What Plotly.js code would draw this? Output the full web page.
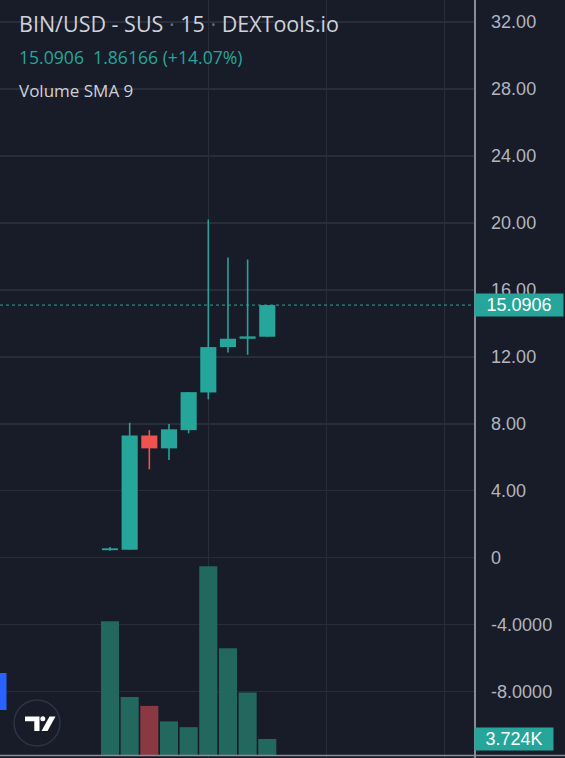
<!DOCTYPE html>
<html>
<head>
<meta charset="utf-8">
<script src="https://cdn.plot.ly/plotly-3.0.1.min.js"></script>
<style>html,body{margin:0;padding:0;background:#181b28;}#chart{width:565px;height:758px;}</style>
</head>
<body>
<div id="chart"></div>
<script>
// ---- data ----
var candleIdx = [0, 1, 2, 3, 4, 5, 6, 7, 8];
var opens  = [0.45, 0.47, 7.30, 6.53, 7.62, 9.87, 12.58, 13.08, 13.20];
var highs  = [0.64, 8.06, 7.62, 7.98, 9.89, 20.20, 17.93, 17.81, 15.0906];
var lows   = [0.42, 0.47, 5.28, 5.83, 7.43, 9.46, 12.26, 12.12, 13.20];
var closes = [0.56, 7.30, 6.53, 7.67, 9.89, 12.58, 13.08, 13.22, 15.0906];
var volumes = [30300, 13200, 11200, 7700, 6400, 42700, 24200, 14200, 3724];
var priceTickVals = [-8, -4, 0, 4, 8, 12, 16, 20, 24, 28, 32];
var priceTickText = ['-8.0000', '-4.0000', '0', '4.00', '8.00', '12.00', '16.00', '20.00', '24.00', '28.00', '32.00'];
var lastPrice = 15.0906;
var lastVolumeLabel = '3.724K';

// ---- styles ----
var W = 565, H = 758;
var BG = '#181b28', GRID = '#292d3a';
var UP = '#26a69a', DOWN = '#ef5350';
var VUP = '#22685e', VDOWN = '#8a3942';
function px(x) { return x / W; }
function py(y) { return 1 - y / H; }

var isUp = closes.map(function (c, i) { return c >= opens[i]; });
var candleColors = isUp.map(function (u) { return u ? UP : DOWN; });
var volColors = isUp.map(function (u) { return u ? VUP : VDOWN; });

var traces = [
  { // volume
    type: 'bar', x: candleIdx, y: volumes, yaxis: 'y2', width: 0.92,
    marker: { color: volColors, line: { width: 0 } }, hoverinfo: 'skip'
  },
  { // wicks
    type: 'bar', x: candleIdx,
    base: lows, y: highs.map(function (h, i) { return h - lows[i]; }),
    width: 0.08, marker: { color: candleColors, line: { width: 0 } }, hoverinfo: 'skip'
  },
  { // bodies
    type: 'bar', x: candleIdx,
    base: opens.map(function (o, i) { return Math.min(o, closes[i]); }),
    y: opens.map(function (o, i) { return Math.abs(closes[i] - o); }),
    width: 0.82, marker: { color: candleColors, line: { width: 0 } }, hoverinfo: 'skip'
  }
];

function logoShapes() {
  var s = [];
  s.push({ type: 'circle', xref: 'paper', yref: 'paper', x0: px(14), x1: px(60), y0: py(746), y1: py(700),
           line: { color: '#2f3342', width: 1.5 }, fillcolor: BG, layer: 'above' });
  var T = [[25,716.5],[39.5,716.5],[39.5,731],[34.3,731],[34.3,721.3],[25,721.3]];
  var d = 'M' + T.map(function (p) { return px(p[0]) + ',' + py(p[1]); }).join(' L') + ' Z';
  s.push({ type: 'path', xref: 'paper', yref: 'paper', path: d, fillcolor: '#ffffff', line: { width: 0 }, layer: 'above' });
  s.push({ type: 'circle', xref: 'paper', yref: 'paper', x0: px(40.3), x1: px(45.3), y0: py(721.3), y1: py(716.3),
           fillcolor: '#ffffff', line: { width: 0 }, layer: 'above' });
  var S = [[49.5,716.5],[55.5,716.5],[47.5,731],[41.5,731]];
  var d2 = 'M' + S.map(function (p) { return px(p[0]) + ',' + py(p[1]); }).join(' L') + ' Z';
  s.push({ type: 'path', xref: 'paper', yref: 'paper', path: d2, fillcolor: '#ffffff', line: { width: 0 }, layer: 'above' });
  s.push({ type: 'rect', xref: 'paper', yref: 'paper', x0: px(-4), x1: px(6.5), y0: py(710), y1: py(673),
           fillcolor: '#2962ff', line: { width: 0 }, layer: 'above' });
  return s;
}

var shapes = [
  { type: 'line', xref: 'paper', yref: 'y', x0: 0, x1: px(474), y0: lastPrice, y1: lastPrice,
    line: { color: UP, width: 1, dash: 'dot' } },
  { type: 'line', xref: 'paper', yref: 'paper', x0: 0, x1: 1, y0: py(755.5), y1: py(755.5),
    line: { color: '#8a8d96', width: 1.5 } }
].concat(logoShapes());

var dot = '<span style="color:#6a6d78"> · </span>';
var annotations = [
  { xref: 'paper', yref: 'paper', x: px(17), y: py(23), xanchor: 'left', yanchor: 'middle', showarrow: false,
    text: 'BIN/USD - SUS' + dot + '15' + dot + 'DEXTools.io',
    font: { family: 'Open Sans, sans-serif', size: 21.5, color: '#cfd2da' } },
  { xref: 'paper', yref: 'paper', x: px(17), y: py(57), xanchor: 'left', yanchor: 'middle', showarrow: false,
    text: '15.0906  1.86166 (+14.07%)',
    font: { family: 'Open Sans, sans-serif', size: 17.6, color: UP } },
  { xref: 'paper', yref: 'paper', x: px(17), y: py(90), xanchor: 'left', yanchor: 'middle', showarrow: false,
    text: 'Volume SMA 9',
    font: { family: 'Open Sans, sans-serif', size: 17, color: '#cfd2da' } },
  { xref: 'paper', yref: 'y', x: px(474), y: lastPrice, xanchor: 'left', yanchor: 'middle', showarrow: false,
    text: String(lastPrice), bgcolor: UP, borderpad: 1, width: 86, align: 'center',
    font: { family: 'Liberation Sans, Arial, sans-serif', size: 18, color: '#ffffff' } },
  { xref: 'paper', yref: 'y2', x: px(474), y: volumes[volumes.length - 1], xanchor: 'left', yanchor: 'middle', showarrow: false,
    text: lastVolumeLabel, bgcolor: UP, borderpad: 1, width: 76, align: 'center',
    font: { family: 'Liberation Sans, Arial, sans-serif', size: 18, color: '#ffffff' } }
];

var pxPerUnit = (557.7 - 22) / 32;
var volPerPx = 225.7;
var layout = {
  width: W, height: H, margin: { l: 0, r: 0, t: 0, b: 0 },
  paper_bgcolor: BG, plot_bgcolor: BG, showlegend: false, barmode: 'overlay',
  xaxis: { domain: [0, 474 / W], range: [-110 / 19.66, (474 - 110) / 19.66],
           tickvals: [5, 11, 17], showticklabels: false, ticks: '', showgrid: true, gridcolor: GRID, gridwidth: 1,
           zeroline: false, showline: false, fixedrange: true },
  yaxis: { side: 'right', range: [-(H - 557.7) / pxPerUnit, 557.7 / pxPerUnit],
           tickvals: priceTickVals, ticktext: priceTickText, ticks: '', ticklabelstandoff: 12,
           tickfont: { family: 'Liberation Sans, Arial, sans-serif', size: 18, color: '#b2b5be' },
           showgrid: true, gridcolor: GRID, gridwidth: 1.5, zeroline: false,
           showline: true, linecolor: '#8a8d96', linewidth: 1.5, fixedrange: true },
  yaxis2: { overlaying: 'y', side: 'right', range: [-(H - 755.5) * volPerPx, 755.5 * volPerPx],
            visible: false, showgrid: false, zeroline: false, fixedrange: true },
  shapes: shapes,
  annotations: annotations
};

Plotly.newPlot('chart', traces, layout, { displayModeBar: false, staticPlot: true });
</script>
</body>
</html>
